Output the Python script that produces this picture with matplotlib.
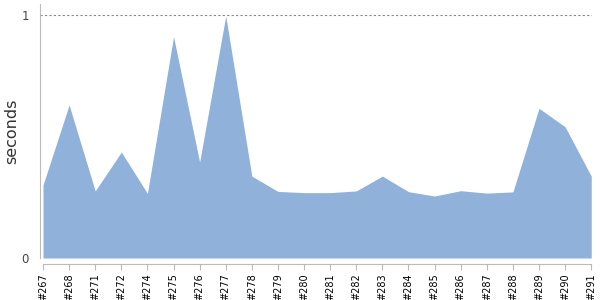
import matplotlib
matplotlib.use("Agg")
import matplotlib.pyplot as plt
import numpy as np

builds = ["#267", "#268", "#271", "#272", "#274", "#275", "#276", "#277", "#278", "#279",
          "#280", "#281", "#282", "#283", "#284", "#285", "#286", "#287", "#288", "#289",
          "#290", "#291"]
seconds = [0.300, 0.630, 0.276, 0.436, 0.266, 0.911, 0.395, 0.996, 0.337, 0.274,
           0.269, 0.269, 0.276, 0.337, 0.273, 0.255, 0.277, 0.267, 0.272, 0.616,
           0.540, 0.337]
yticks = [0, 1]

fig = plt.figure(figsize=(6, 3), dpi=100)
ax = fig.add_axes([40/600, 42/300, 552/600, 254/300])
x = np.arange(len(builds))
ax.fill_between(x, 0, seconds, color="#8fb1da", linewidth=0)
ax.axhline(1, color="#888888", linewidth=0.8, linestyle=(0, (2, 2)), zorder=0)

ax.set_xlim(-0.115, len(builds) - 1 + 0.03)
ax.set_ylim(0, (258 - 4) / 243)
ax.set_xticks(x)
ax.set_xticklabels(builds)
ax.set_yticks(yticks)
ax.set_yticklabels([str(t) for t in yticks])
ax.tick_params(axis="y", length=0, pad=8, labelsize=8.5, labelcolor="#444444")
ax.tick_params(axis="x", length=4, color="#bbbbbb", width=0.8, pad=3,
               labelrotation=90, labelsize=7, labelcolor="black")

for s in ["top", "right"]:
    ax.spines[s].set_visible(False)
ax.spines["left"].set_color("#bbbbbb")
ax.spines["bottom"].set_color("#bbbbbb")
ax.spines["bottom"].set_position(("outward", 4))
ax.spines["bottom"].set_bounds(0, len(builds) - 1)

ax.set_ylabel("seconds", fontsize=11.5, color="#333333")
ax.yaxis.set_label_coords(-21 / 552, 0.5)

fig.savefig("out.png", dpi=100)
